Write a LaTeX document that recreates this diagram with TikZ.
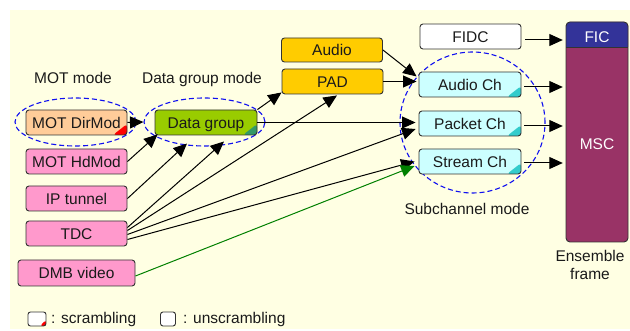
\documentclass[tikz,border=0pt]{standalone}
\usepackage{fontspec}
\setmainfont{Liberation Sans}
\usetikzlibrary{shapes.geometric,arrows.meta,calc}

\definecolor{bgyellow}{HTML}{FFFFE3}
\definecolor{boxline}{HTML}{333333}
\definecolor{peach}{HTML}{FFCC99}
\definecolor{pinkbox}{HTML}{FF99CC}
\definecolor{limegreen}{HTML}{99CC00}
\definecolor{seagreen}{HTML}{339966}
\definecolor{gold}{HTML}{FFCC00}
\definecolor{paleCyan}{HTML}{CCFFFF}
\definecolor{tealcorner}{HTML}{33CCCC}
\definecolor{ficblue}{HTML}{333399}
\definecolor{mscpurple}{HTML}{993366}
\definecolor{modeblue}{HTML}{1010F0}
\definecolor{videogreen}{HTML}{008000}
\definecolor{inktext}{HTML}{1A1A1A}

\begin{document}
\begin{tikzpicture}[x=1pt,y=-1pt,
  font=\fontsize{15.5}{18}\selectfont,
  every node/.style={text=inktext},
  capcenter/.style={text height=11.1pt, text depth=0pt},
  box/.style={draw=boxline, line width=0.9pt, rounded corners=3pt,
    minimum width=101pt, minimum height=25pt, inner sep=0pt, capcenter},
  cornertag/.style={path picture={
    \fill[#1] ([xshift=-14pt]path picture bounding box.south east)
      -- (path picture bounding box.south east)
      -- ([yshift=11pt]path picture bounding box.south east) -- cycle;}},
  modering/.style={ellipse, draw=modeblue, line width=1.1pt,
    dash pattern=on 5pt off 3pt, inner sep=0pt},
  flow/.style={draw=black, line width=1pt,
    -{Triangle[length=13.5pt,width=12pt]}},
  label/.style={capcenter, inner sep=0pt}
]
\useasboundingbox (0,0) rectangle (630,331);
\fill[bgyellow] (10,10) rectangle (630,329);

% dashed groupings
\node[modering, minimum width=121pt, minimum height=48pt] (motell) at (75.5,122) {};
\node[modering, minimum width=121pt, minimum height=48pt] (dgell) at (204.5,122) {};
\node[modering, minimum width=145pt, minimum height=141pt] (subell) at (472.5,122.5) {};

% mode labels
\node[label] (motlbl) at (73,78) {MOT mode};
\node[label] (dglbl) at (202,78) {Data group mode};
\node[label] (sublbl) at (467,208.5) {Subchannel mode};

% sources
\node[box, fill=peach, cornertag=red] (motdir) at (76.5,122.5) {MOT DirMod};
\node[box, fill=pinkbox] (mothd) at (76.5,161.5) {MOT HdMod};
\node[box, fill=pinkbox] (ip) at (76.5,198.5) {IP tunnel};
\node[box, fill=pinkbox] (tdc) at (76.5,233.5) {TDC};
\node[box, fill=pinkbox, minimum width=117pt, minimum height=26pt] (dmb) at (76.5,273) {DMB video};

\node[box, fill=limegreen, minimum width=102pt, cornertag=seagreen] (dg) at (206,122.5) {Data group};
\node[box, fill=gold, minimum height=24pt] (audio) at (332,50) {Audio};
\node[box, fill=gold] (pad) at (332.5,81.5) {PAD};

% subchannels
\node[box, fill=white] (fidc) at (470.5,36.5) {FIDC};
\node[box, fill=paleCyan, minimum width=102pt, cornertag=tealcorner] (ach) at (470,84.5) {Audio Ch};
\node[box, fill=paleCyan, minimum width=102pt, cornertag=tealcorner] (pch) at (470,123.5) {Packet Ch};
\node[box, fill=paleCyan, minimum width=102pt, cornertag=tealcorner] (sch) at (470,161.5) {Stream Ch};

% ensemble frame
\node[fill=mscpurple, rounded corners=4pt, minimum width=62pt, minimum height=220pt, inner sep=0pt] (ens) at (597,132) {};
\begin{scope}
  \clip (566,22) rectangle (628,47);
  \fill[ficblue, rounded corners=4pt] (566,22) rectangle (628,70);
\end{scope}
\draw[boxline, line width=0.9pt] (566,47) -- (628,47);
\draw[boxline, line width=0.9pt, rounded corners=4pt] (566,22) rectangle (628,242);
\node[capcenter, inner sep=0pt, minimum width=62pt, text=white] (fic) at (597,37) {FIC};
\node[capcenter, inner sep=0pt, minimum width=62pt, text=white] (msc) at (597,143.5) {MSC};
\node[align=center, anchor=north, inner sep=0pt] (enslbl) at (590,250) {Ensemble\\frame};

% connectors
\draw[flow] (motdir.east) -- (dgell.west);
\draw[flow] (mothd.east) -- ($(dg.south west)+(3,-1)$);
\draw[flow] (ip.east) -- ($(dg.center)+(-19,21)$);
\draw[flow] ($(tdc.east)+(0,-6)$) -- ($(dg.center)+(18,19)$);
\draw[flow] ($(tdc.east)+(0,-3)$) -- ($(pad.south)+(4.5,1)$);
\draw[flow] ($(tdc.east)+(0,1)$) -- ($(pch.west)+(-3,5.5)$);
\draw[flow] ($(tdc.east)+(0,6)$) -- ($(sch.west)+(-4,0)$);
\draw[flow, draw=videogreen, -{Triangle[length=13.5pt,width=12pt,fill=videogreen]}]
  ($(dmb.east)+(0,3)$) -- ($(sch.west)+(-4,4.5)$);
\draw[flow] (dg.north east) -- ($(pad.south west)+(0,-2)$);
\draw[flow, shorten >=3pt] (dg.east) -- (dg.east -| pch.west);
\draw[flow] (audio.east) -- ($(ach.west)+(-2,-8)$);
\draw[flow, shorten >=2pt] (pad.east) -- (pad.east -| ach.west);
\draw[flow] ($(fidc.east)+(4,3.5)$) -- ($(fidc.east -| fic.west)+(-3,3.5)$);
\draw[flow] ($(ach.east)+(3,2.5)$) -- ($(ach.east -| msc.west)+(-3,2.5)$);
\draw[flow] ($(pch.east)+(3,2.5)$) -- ($(pch.east -| msc.west)+(-3,2.5)$);
\draw[flow] ($(sch.east)+(3,1.5)$) -- ($(sch.east -| msc.west)+(-3,1.5)$);

% legend
\node[box, fill=white, minimum width=18pt, minimum height=14pt, rounded corners=2.5pt,
  path picture={\fill[red] ([xshift=-6pt]path picture bounding box.south east)
    -- (path picture bounding box.south east)
    -- ([yshift=6pt]path picture bounding box.south east) -- cycle;}] (keyscr) at (37,319) {};
\node[label, anchor=west] (keyscrtxt) at (51,317.5) {: scrambling};
\node[box, fill=white, minimum width=15pt, minimum height=14pt, rounded corners=2.5pt] (keyplain) at (168,319) {};
\node[label, anchor=west] (keyplaintxt) at (183,317.5) {: unscrambling};
\end{tikzpicture}
\end{document}
